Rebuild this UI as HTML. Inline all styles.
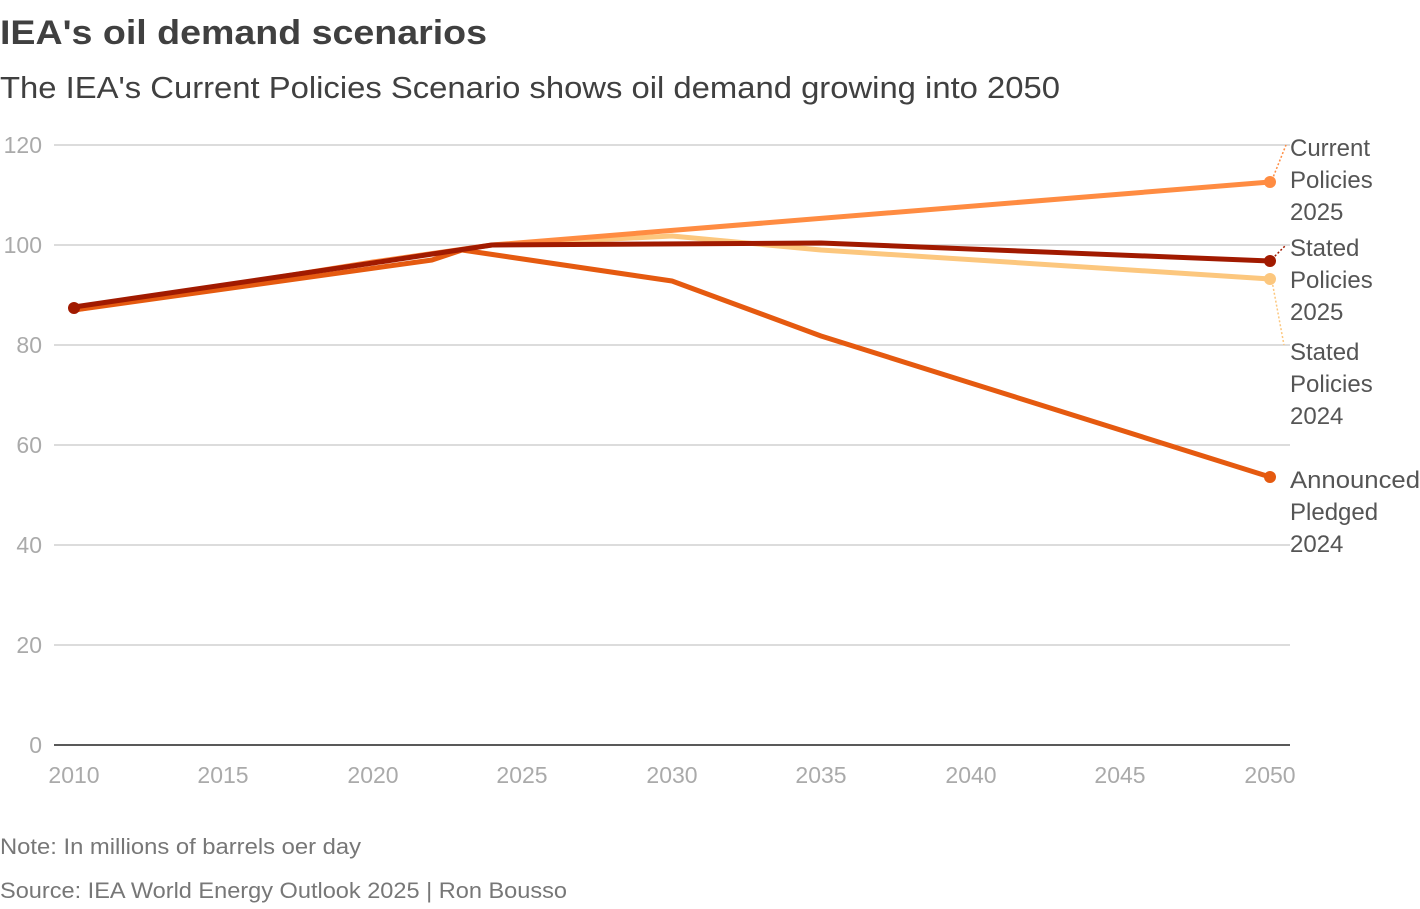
<!DOCTYPE html>
<html><head><meta charset="utf-8"><style>
body{margin:0;background:#fff;width:1420px;height:904px;overflow:hidden;font-family:"Liberation Sans",sans-serif;}
</style></head><body>
<svg width="1420" height="904" xmlns="http://www.w3.org/2000/svg" font-family="Liberation Sans, sans-serif">
<text x="0" y="44" font-size="34" font-weight="bold" fill="#404040" textLength="487" lengthAdjust="spacingAndGlyphs">IEA's oil demand scenarios</text>
<text x="0" y="98" font-size="31" fill="#404040" textLength="1060" lengthAdjust="spacingAndGlyphs">The IEA's Current Policies Scenario shows oil demand growing into 2050</text>
<g stroke="#c8c8c8" stroke-width="1.3">
<line x1="54" y1="145" x2="1290" y2="145"/><line x1="54" y1="245" x2="1290" y2="245"/>
<line x1="54" y1="345" x2="1290" y2="345"/><line x1="54" y1="445" x2="1290" y2="445"/>
<line x1="54" y1="545" x2="1290" y2="545"/><line x1="54" y1="645" x2="1290" y2="645"/>
</g>
<line x1="54" y1="745" x2="1290" y2="745" stroke="#222" stroke-width="1.5"/>
<g font-size="23" fill="#aaa" text-anchor="end">
<text x="42" y="153">120</text><text x="42" y="253">100</text><text x="42" y="353">80</text>
<text x="42" y="453">60</text><text x="42" y="553">40</text><text x="42" y="653">20</text><text x="42" y="753">0</text>
</g>
<g font-size="23" fill="#aaa" text-anchor="middle">
<text x="74" y="783">2010</text><text x="223" y="783">2015</text><text x="373" y="783">2020</text>
<text x="522" y="783">2025</text><text x="672" y="783">2030</text><text x="821" y="783">2035</text>
<text x="971" y="783">2040</text><text x="1120" y="783">2045</text><text x="1270" y="783">2050</text>
</g>
<g fill="none" stroke-width="5" stroke-linejoin="round">
<polyline stroke="#fcc77e" points="492,245 672,236 821,250 1270,279"/>
<polyline stroke="#ff8c42" points="74,310 373,262 492,245 1270,182"/>
<polyline stroke="#e55a10" points="74,310 432,260 462,250 672,281 821,336 1270,477"/>
<polyline stroke="#a11a00" points="74,307 373,263 492,245 821,243 1270,261"/>
</g>
<circle cx="74" cy="308" r="6" fill="#a11a00"/>
<circle cx="1270" cy="182" r="6" fill="#ff8c42"/>
<circle cx="1270" cy="261" r="6" fill="#a11a00"/>
<circle cx="1270" cy="279" r="6" fill="#fcc77e"/>
<circle cx="1270" cy="477" r="6" fill="#e55a10"/>
<g stroke-dasharray="2,2" stroke-width="1.5" fill="none">
<line x1="1272" y1="180" x2="1286" y2="145" stroke="#ff8c42"/>
<line x1="1272" y1="259" x2="1286" y2="245" stroke="#a11a00"/>
<line x1="1272" y1="281" x2="1284" y2="345" stroke="#fcc77e"/>
</g>
<g font-size="24" fill="#555">
<text x="1290" y="156">Current</text><text x="1290" y="188">Policies</text><text x="1290" y="220">2025</text>
<text x="1290" y="256">Stated</text><text x="1290" y="288">Policies</text><text x="1290" y="320">2025</text>
<text x="1290" y="360">Stated</text><text x="1290" y="392">Policies</text><text x="1290" y="424">2024</text>
<text x="1290" y="488" textLength="130" lengthAdjust="spacingAndGlyphs">Announced</text><text x="1290" y="520">Pledged</text><text x="1290" y="552">2024</text>
</g>
<text x="0" y="854" font-size="22" fill="#777" textLength="361" lengthAdjust="spacingAndGlyphs">Note: In millions of barrels oer day</text>
<text x="0" y="898" font-size="22" fill="#777" textLength="567" lengthAdjust="spacingAndGlyphs">Source: IEA World Energy Outlook 2025 | Ron Bousso</text>
</svg>
</body></html>
